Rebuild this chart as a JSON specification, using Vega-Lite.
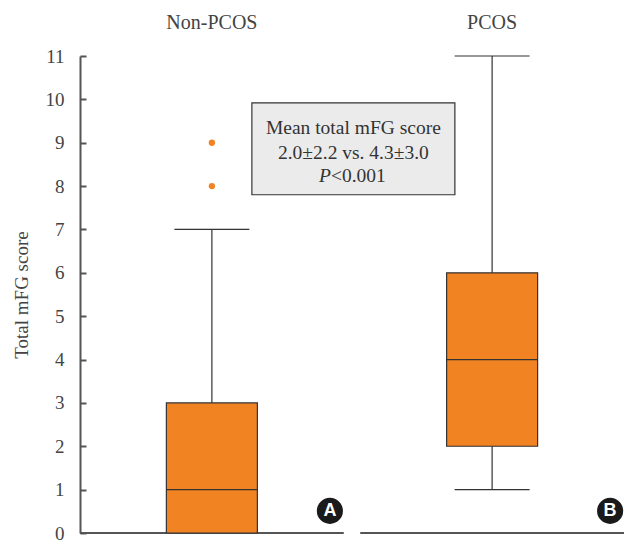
{
  "$schema": "https://vega.github.io/schema/vega-lite/v6.json",
  "width": 544,
  "height": 477,
  "autosize": "none",
  "padding": {"left": 80, "top": 56, "right": 4, "bottom": 10},
  "background": "white",
  "config": {
    "view": {"stroke": null},
    "font": "Liberation Serif"
  },
  "datasets": {
    "boxes": [
      {"group": "Non-PCOS", "lower": 0, "q1": 0, "median": 1, "q3": 3, "upper": 7},
      {"group": "PCOS", "lower": 1, "q1": 2, "median": 4, "q3": 6, "upper": 11}
    ],
    "outliers": [
      {"group": "Non-PCOS", "value": 8},
      {"group": "Non-PCOS", "value": 9}
    ],
    "tags": [
      {"group": "Non-PCOS", "tag": "A"},
      {"group": "PCOS", "tag": "B"}
    ],
    "note": [
      {"group": "Non-PCOS", "line": "Mean total mFG score", "pos": 9.35, "top": 9.92, "bottom": 7.8},
      {"group": "Non-PCOS", "line": "2.0±2.2 vs. 4.3±3.0", "pos": 8.77, "top": 9.92, "bottom": 7.8}
    ]
  },
  "encoding": {
    "x": {
      "field": "group",
      "type": "nominal",
      "sort": ["Non-PCOS", "PCOS"],
      "scale": {"domain": ["Non-PCOS", "PCOS"], "paddingInner": 0.0588, "paddingOuter": 0},
      "axis": {
        "orient": "top",
        "title": null,
        "domain": false,
        "ticks": false,
        "labelAngle": 0,
        "labelFont": "Liberation Serif",
        "labelFontSize": 20,
        "labelColor": "#444444",
        "labelPadding": 24
      }
    }
  },
  "layer": [
    {
      "data": {"name": "boxes"},
      "mark": {"type": "bar", "fill": null, "stroke": "#555555", "strokeWidth": 2, "orient": "vertical"},
      "encoding": {
        "y": {
          "datum": 0,
          "type": "quantitative",
          "scale": {"domain": [0, 11], "nice": false, "zero": true},
          "axis": {
            "title": "Total mFG score",
            "titleFont": "Liberation Serif",
            "titleFontSize": 19,
            "titleFontWeight": "normal",
            "titleColor": "#444444",
            "titlePadding": 14,
            "values": [0, 1, 2, 3, 4, 5, 6, 7, 8, 9, 10, 11],
            "grid": false,
            "domainColor": "#555555",
            "domainWidth": 2,
            "tickColor": "#555555",
            "tickWidth": 2,
            "tickSize": -6,
            "labelFont": "Liberation Serif",
            "labelFontSize": 19,
            "labelColor": "#444444",
            "labelPadding": 22
          }
        },
        "y2": {"datum": 0}
      }
    },
    {
      "data": {"name": "boxes"},
      "mark": {"type": "rule", "color": "#333333", "strokeWidth": 1.2},
      "encoding": {
        "y": {"field": "lower", "type": "quantitative"},
        "y2": {"field": "upper"}
      }
    },
    {
      "data": {"name": "boxes"},
      "mark": {"type": "bar", "width": 91, "fill": "#f28322", "stroke": "#333333", "strokeWidth": 1.2},
      "encoding": {
        "y": {"field": "q1", "type": "quantitative"},
        "y2": {"field": "q3"}
      }
    },
    {
      "data": {"name": "boxes"},
      "mark": {"type": "tick", "orient": "horizontal", "size": 91, "thickness": 1.2, "color": "#333333", "opacity": 1},
      "encoding": {
        "y": {"field": "median", "type": "quantitative"}
      }
    },
    {
      "data": {"name": "boxes"},
      "mark": {"type": "tick", "orient": "horizontal", "size": 75, "thickness": 1.2, "color": "#333333", "opacity": 1},
      "encoding": {
        "y": {"field": "upper", "type": "quantitative"}
      }
    },
    {
      "data": {"name": "boxes"},
      "transform": [{"filter": "datum.lower < datum.q1"}],
      "mark": {"type": "tick", "orient": "horizontal", "size": 75, "thickness": 1.2, "color": "#333333", "opacity": 1},
      "encoding": {
        "y": {"field": "lower", "type": "quantitative"}
      }
    },
    {
      "data": {"name": "outliers"},
      "mark": {"type": "point", "filled": true, "shape": "circle", "size": 40, "color": "#f28322", "opacity": 1},
      "encoding": {
        "y": {"field": "value", "type": "quantitative"}
      }
    },
    {
      "data": {"name": "note"},
      "transform": [{"filter": "datum.pos > 9"}],
      "mark": {"type": "bar", "width": 203, "xOffset": 141.5, "fill": "#ebebeb", "stroke": "#333333", "strokeWidth": 1.2},
      "encoding": {
        "y": {"field": "top", "type": "quantitative"},
        "y2": {"field": "bottom"}
      }
    },
    {
      "data": {"name": "note"},
      "mark": {"type": "text", "dx": 141.5, "baseline": "middle", "align": "center", "font": "Liberation Serif", "fontSize": 19.5, "color": "#333333"},
      "encoding": {
        "y": {"field": "pos", "type": "quantitative"},
        "text": {"field": "line"}
      }
    },
    {
      "data": {"name": "note"},
      "transform": [{"filter": "datum.pos > 9"}],
      "mark": {"type": "text", "dx": 119, "baseline": "middle", "align": "right", "font": "Liberation Serif", "fontSize": 19.5, "fontStyle": "italic", "color": "#333333"},
      "encoding": {
        "y": {"datum": 8.24},
        "text": {"value": "P"}
      }
    },
    {
      "data": {"name": "note"},
      "transform": [{"filter": "datum.pos > 9"}],
      "mark": {"type": "text", "dx": 119, "baseline": "middle", "align": "left", "font": "Liberation Serif", "fontSize": 19.5, "color": "#333333"},
      "encoding": {
        "y": {"datum": 8.24},
        "text": {"value": "<0.001"}
      }
    },
    {
      "data": {"name": "tags"},
      "mark": {"type": "point", "filled": true, "shape": "circle", "size": 680, "color": "#1a1a1a", "opacity": 1, "xOffset": 118},
      "encoding": {
        "y": {"datum": 0.51}
      }
    },
    {
      "data": {"name": "tags"},
      "mark": {"type": "text", "dx": 118, "baseline": "middle", "align": "center", "font": "Liberation Sans", "fontWeight": "bold", "fontSize": 18, "color": "white"},
      "encoding": {
        "y": {"datum": 0.51},
        "text": {"field": "tag"}
      }
    }
  ]
}
